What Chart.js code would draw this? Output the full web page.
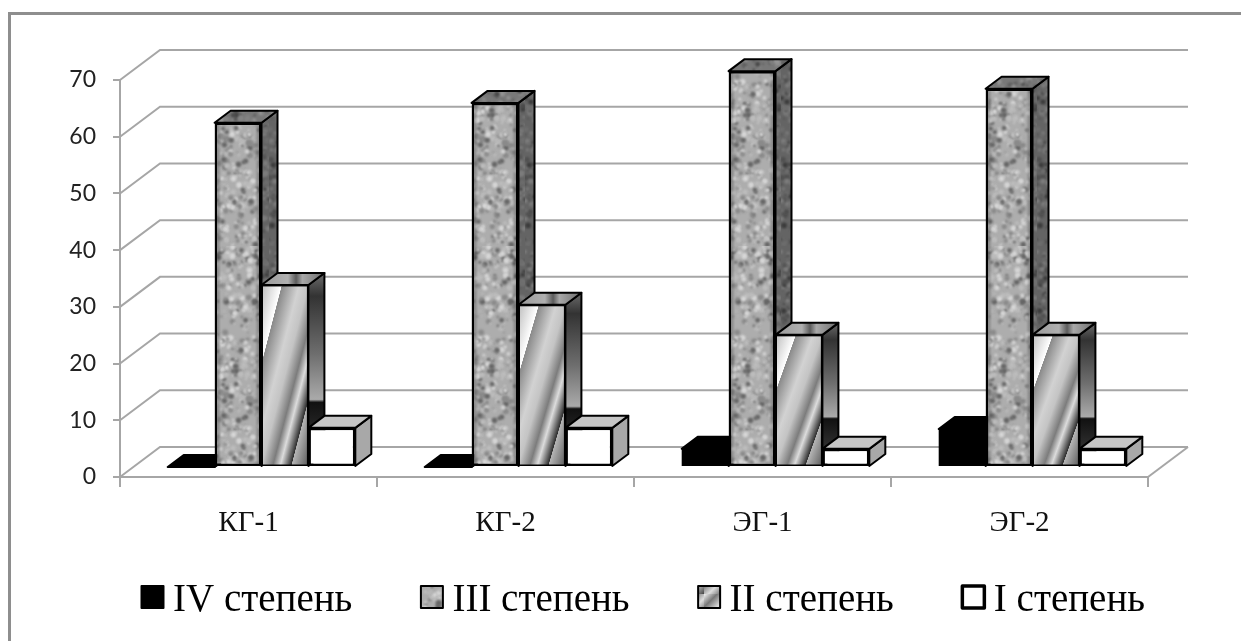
<!DOCTYPE html>
<html>
<head>
<meta charset="utf-8">
<style>
    html, body { margin: 0; background: #fff; overflow: hidden; }
    #frame { position: absolute; left: 8px; top: 12px; right: 0; bottom: 0; border-top: 3px solid #8e8e8e; border-left: 3px solid #8e8e8e; }
    #myChart { position: absolute; left: 0; top: 0; filter: blur(0.5px); }
</style>
<script src="https://cdn.jsdelivr.net/npm/chart.js@4"></script>
</head>
<body>
<div id="frame"></div>
<canvas id="myChart" width="1241" height="641"></canvas>
<script>
    const categories = ['КГ-1', 'КГ-2', 'ЭГ-1', 'ЭГ-2'];
    const seriesNames = ['IV степень', 'III степень', 'II степень', 'I степень'];
    const degree4 = [0, 0, 3.2, 6.7];
    const degree3 = [60.7, 64.2, 69.8, 66.7];
    const degree2 = [32.1, 28.6, 23.3, 23.3];
    const degree1 = [6.9, 6.9, 3.2, 3.2];

    // how far the bars and the back wall are pushed away from the front axes
    const barShift = { x: 13, y: -10 };
    const barDepth = { x: 16, y: 12 };
    const wallDepth = { x: 40, y: 30 };
    const gridGrey = '#a6a6a6';

    // Granite texture, fixed seed so every run gives the same stone
    function graniteTile(size) {
        const tile = document.createElement('canvas');
        tile.width = tile.height = size;
        const c = tile.getContext('2d');
        c.fillStyle = '#adadad';
        c.fillRect(0, 0, size, size);
        let seed = 7;
        const next = () => (seed = (seed * 1103515245 + 12345) % 2147483648) / 2147483648;
        c.filter = 'blur(1px)';
        for (let i = 0; i < 3000; i++) {
            const x = next() * size, y = next() * size, r = 0.8 + next() * 2.2;
            const shade = next();
            c.fillStyle = shade < 0.14 ? '#666666' : shade < 0.38 ? '#8a8a8a' : shade < 0.72 ? '#d6d6d6' : '#bcbcbc';
            c.beginPath();
            c.arc(x, y, r, 0, Math.PI * 2);
            c.fill();
        }
        return tile;
    }

    function stripeTile() {
        const tile = document.createElement('canvas');
        tile.width = tile.height = 22;
        const c = tile.getContext('2d');
        const g = c.createLinearGradient(0, 0, 22, 22);
        g.addColorStop(0, '#f4f4f4');
        g.addColorStop(0.3, '#777');
        g.addColorStop(0.6, '#ddd');
        g.addColorStop(1, '#444');
        c.fillStyle = g;
        c.fillRect(0, 0, 22, 22);
        return tile;
    }

    var ctx = document.getElementById('myChart').getContext('2d');
    const granite = ctx.createPattern(graniteTile(256), 'repeat');
    const stripes = ctx.createPattern(stripeTile(), 'repeat');

    // Diagonal shading of the II bars, stretched to each bar's own box
    function frontShade(c, left, top, w, h) {
        const s = 2 / (1 / (w * w) + 1 / (h * h));
        const g = c.createLinearGradient(left, top, left + s / w, top + s / h);
        g.addColorStop(0, '#bdbdbd');
        g.addColorStop(0.215, '#ffffff');
        g.addColorStop(0.22, '#8a8a8a');
        g.addColorStop(0.4, '#d2d2d2');
        g.addColorStop(0.5, '#c4c4c4');
        g.addColorStop(0.62, '#7c7c7c');
        g.addColorStop(0.7, '#dcdcdc');
        g.addColorStop(0.815, '#2e2e2e');
        g.addColorStop(0.82, '#b4b4b4');
        g.addColorStop(1, '#5a5a5a');
        return g;
    }

    function sideShade(c, top, bottom) {
        const g = c.createLinearGradient(0, top, 0, bottom);
        g.addColorStop(0, '#6c6c6c');
        g.addColorStop(0.12, '#333');
        g.addColorStop(0.42, '#6e6e6e');
        g.addColorStop(0.655, '#aaa');
        g.addColorStop(0.67, '#111');
        g.addColorStop(1, '#444');
        return g;
    }

    function topShade(c, left, right) {
        const g = c.createLinearGradient(left, 0, right, 0);
        g.addColorStop(0, '#9a9a9a');
        g.addColorStop(0.42, '#b0b0b0');
        g.addColorStop(0.55, '#5c5c5c');
        g.addColorStop(0.65, '#a8a8a8');
        g.addColorStop(1, '#6c6c6c');
        return g;
    }

    // the stone gets darker towards the bar's long edges
    function edgeShade(c, left, right) {
        const g = c.createLinearGradient(left, 0, right, 0);
        g.addColorStop(0, 'rgba(0,0,0,0.4)');
        g.addColorStop(0.14, 'rgba(0,0,0,0)');
        g.addColorStop(0.86, 'rgba(0,0,0,0)');
        g.addColorStop(1, 'rgba(0,0,0,0.4)');
        return g;
    }

    function face(c, points, fill, dark) {
        c.beginPath();
        points.forEach((p, i) => i ? c.lineTo(p[0], p[1]) : c.moveTo(p[0], p[1]));
        c.closePath();
        c.fillStyle = fill;
        c.fill();
        if (dark) {
            c.fillStyle = dark;
            c.fill();
        }
        c.strokeStyle = '#000';
        c.lineWidth = 2;
        c.lineJoin = 'round';
        c.stroke();
    }

    function drawWalls(chart) {
        const c = chart.ctx, y = chart.scales.y, area = chart.chartArea;
        c.save();
        c.strokeStyle = gridGrey;
        c.lineWidth = 2;
        y.ticks.forEach(tick => {
            const py = y.getPixelForValue(tick.value);
            c.beginPath();
            c.moveTo(area.left, py);
            c.lineTo(area.left + wallDepth.x, py - wallDepth.y);
            c.lineTo(area.right + wallDepth.x, py - wallDepth.y);
            c.stroke();
        });
        const floor = y.getPixelForValue(0);
        c.beginPath();
        c.moveTo(area.right, floor);
        c.lineTo(area.right + wallDepth.x, floor - wallDepth.y);
        c.stroke();
        c.restore();
    }

    function drawBar(c, el, index) {
        const left = el.x - el.width / 2, right = el.x + el.width / 2, top = el.y, bottom = el.base;
        const dx = barDepth.x, dy = barDepth.y;
        let sideFill = '#000', topFill = '#000', sideDark = null, topDark = null;
        if (index === 1) { sideFill = granite; topFill = granite; sideDark = 'rgba(0,0,0,0.42)'; topDark = 'rgba(0,0,0,0.3)'; }
        if (index === 2) { sideFill = sideShade(c, top - dy, bottom); topFill = topShade(c, left, right + dx); }
        if (index === 3) { sideFill = '#a8a8a8'; topFill = '#c6c6c6'; }
        face(c, [[right, top], [right + dx, top - dy], [right + dx, bottom - dy], [right, bottom]], sideFill, sideDark);
        face(c, [[left, top], [left + dx, top - dy], [right + dx, top - dy], [right, top]], topFill, topDark);
        el.draw(c);
        if (index === 1) {
            c.fillStyle = edgeShade(c, left, right);
            c.fillRect(left + 1.5, top + 1.5, el.width - 3, bottom - top - 3);
        }
        if (index === 2) {
            c.fillStyle = frontShade(c, left, top, el.width, bottom - top);
            c.fillRect(left + 1.5, top + 1.5, el.width - 3, bottom - top - 3);
        }
    }

    // Legend swatches sit closer to the text than the library allows, so they are painted here
    function drawSwatches(chart) {
        const c = chart.ctx, legend = chart.legend, pad = legend.options.labels.padding;
        const centerY = 597;
        let x = legend.left + pad;
        c.save();
        legend.legendHitBoxes.forEach((box, i) => {
            c.fillStyle = chart.data.datasets[i].backgroundColor;
            c.fillRect(x + 8, centerY - 11, 22, 22);
            c.strokeStyle = '#000';
            c.lineWidth = i === 3 ? 3.5 : 2;
            c.lineJoin = 'round';
            c.strokeRect(x + 8, centerY - 11, 22, 22);
            x += box.width + pad;
        });
        c.restore();
    }

    // Flat bars from the library, the 3D look is painted around them
    const fakeThreeD = {
        id: 'fakeThreeD',
        beforeInit(chart) {
            const fit = chart.legend.fit;
            chart.legend.fit = function () {
                this.maxWidth = 2000;
                fit.call(this);
                this.height = 98;
            };
        },
        afterLayout(chart) {
            chart.legend.left = 73;
            chart.legend.right = 1500;
            chart.legend.top = 521;
            chart.legend.bottom = 641;
        },
        beforeDatasetsDraw(chart) {
            const c = chart.ctx;
            drawWalls(chart);
            c.save();
            c.translate(barShift.x, barShift.y);
            chart.data.datasets.forEach((ds, i) => {
                chart.getDatasetMeta(i).data.forEach(el => drawBar(c, el, i));
            });
            c.restore();
            return false;
        },
        afterDraw(chart) {
            drawSwatches(chart);
        }
    };

    const barStyle = { borderColor: '#000', borderWidth: 2.5, borderSkipped: false, categoryPercentage: 0.73, barPercentage: 1 };

    var chart = new Chart(ctx, {
        type: 'bar',
        data: {
            labels: categories,
            datasets: [
                { label: seriesNames[0], data: degree4, backgroundColor: '#000', ...barStyle, borderWidth: 0 },
                { label: seriesNames[1], data: degree3, backgroundColor: granite, ...barStyle },
                { label: seriesNames[2], data: degree2, backgroundColor: stripes, ...barStyle },
                { label: seriesNames[3], data: degree1, backgroundColor: '#fff', ...barStyle }
            ]
        },
        plugins: [fakeThreeD],
        options: {
            responsive: false,
            animation: false,
            layout: { padding: { left: 0, right: 93, top: 80, bottom: 0 } },
            scales: {
                x: {
                    afterFit(scale) { scale.height = 66; },
                    border: { color: gridGrey, width: 2 },
                    grid: { color: gridGrey, lineWidth: 2, drawOnChartArea: false, tickLength: 10 },
                    ticks: { color: '#111', padding: 19, maxRotation: 0, font: { family: 'Liberation Serif', size: 29 } }
                },
                y: {
                    min: 0,
                    max: 70,
                    afterFit(scale) { scale.width = 120; },
                    border: { color: gridGrey, width: 2 },
                    grid: { color: gridGrey, lineWidth: 2, drawOnChartArea: false, tickLength: 7 },
                    ticks: { stepSize: 10, color: '#222', padding: 17, font: { family: 'Lato', size: 23 } }
                }
            },
            plugins: {
                legend: {
                    position: 'bottom',
                    align: 'start',
                    labels: {
                        boxWidth: 20,
                        boxHeight: 20,
                        padding: 60.5,
                        color: '#000',
                        font: { family: 'Liberation Serif', size: 39 },
                        generateLabels(chart) {
                            return Chart.defaults.plugins.legend.labels.generateLabels(chart).map(item => {
                                item.fillStyle = 'rgba(0,0,0,0)';
                                item.strokeStyle = 'rgba(0,0,0,0)';
                                item.lineWidth = 0;
                                return item;
                            });
                        }
                    }
                },
                tooltip: { enabled: false }
            }
        }
    });
</script>
</body>
</html>
